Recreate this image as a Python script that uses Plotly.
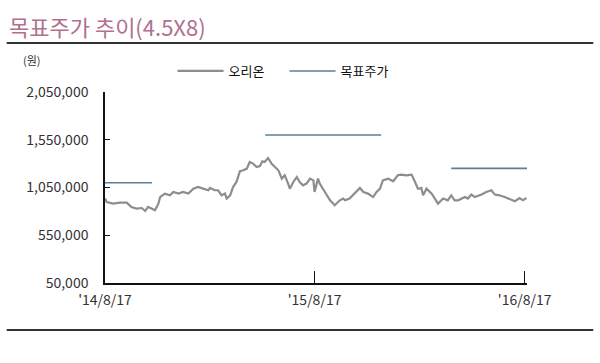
import pandas as pd
import plotly.graph_objects as go

# ---- data ----
start_date = "2014-08-17"
day_offsets = [0, 3, 14, 26, 38, 46, 55, 64, 70, 75, 81, 87, 93, 96, 104, 113, 119, 128, 136, 145,
               154, 162, 171, 180, 183, 191, 197, 203, 209, 212, 218, 223, 229, 235, 241, 247, 252,
               258, 264, 270, 274, 278, 284, 290, 296, 302, 308, 313, 319, 322, 328, 334, 339, 345,
               351, 357, 363, 365, 371, 374, 383, 392, 400, 409, 415, 418, 426, 435, 444, 450, 458,
               467, 473, 479, 484, 493, 502, 510, 516, 525, 534, 540, 545, 548, 551, 554, 560, 569,
               574, 580, 589, 597, 603, 609, 615, 621, 627, 632, 638, 644, 650, 656, 664, 673, 679,
               687, 696, 705, 714, 722, 728, 734]
orion_price = [934000, 898000, 881000, 892000, 892000, 846000, 829000, 835000, 804000, 846000,
               829000, 811000, 881000, 950000, 986000, 968000, 1003000, 986000, 1003000, 986000,
               1038000, 1055000, 1038000, 1021000, 1045000, 1021000, 1021000, 968000, 986000, 934000,
               968000, 1055000, 1108000, 1220000, 1230000, 1248000, 1317000, 1300000, 1265000,
               1275000, 1324000, 1317000, 1359000, 1300000, 1265000, 1230000, 1143000, 1178000,
               1091000, 1038000, 1108000, 1160000, 1108000, 1073000, 1091000, 1143000, 1125000,
               1003000, 1143000, 1091000, 1003000, 916000, 864000, 916000, 934000, 916000, 934000,
               986000, 1045000, 1003000, 986000, 950000, 1003000, 1038000, 1125000, 1143000, 1115000,
               1178000, 1185000, 1178000, 1185000, 1108000, 1038000, 1038000, 1045000, 968000,
               1038000, 986000, 934000, 881000, 934000, 916000, 968000, 916000, 916000, 934000,
               950000, 934000, 976000, 950000, 961000, 976000, 1003000, 1021000, 976000, 968000,
               950000, 926000, 906000, 940000, 916000, 940000, 916000, 892000, 898000, 898000]
target_start = ["2014-08-17", "2015-05-23", "2016-04-11"]
target_end = ["2014-11-07", "2015-12-11", "2016-08-21"]
target_price = [1100000, 1600000, 1250000]
y_ticks = [50000, 550000, 1050000, 1550000, 2050000]
x_tick_dates = ["2014-08-17", "2015-08-17", "2016-08-17"]
x_tick_labels = ["'14/8/17", "'15/8/17", "'16/8/17"]

dates = pd.Timestamp(start_date) + pd.to_timedelta(day_offsets, unit="D")

tx, ty = [], []
for s, e, v in zip(target_start, target_end, target_price):
    tx += [s, e, None]
    ty += [v, v, None]

FONT = "Noto Sans CJK KR"

fig = go.Figure()
fig.add_trace(go.Scatter(x=dates, y=orion_price, mode="lines", name="오리온",
                         line=dict(color="#8d8d8d", width=2.2)))
fig.add_trace(go.Scatter(x=tx, y=ty, mode="lines", name="목표주가",
                         line=dict(color="#5b7f99", width=1.6)))

fig.update_layout(
    width=600, height=363,
    margin=dict(l=105, r=73, t=92, b=80),
    plot_bgcolor="white", paper_bgcolor="white",
    font=dict(family=FONT, size=14, color="#333333"),
    showlegend=True,
    legend=dict(orientation="h", x=0.16, y=1.11, xanchor="left", yanchor="middle",
                font=dict(size=13, color="#111111"), bgcolor="rgba(0,0,0,0)",
                entrywidth=51, itemwidth=46),
    xaxis=dict(type="date", range=["2014-08-17", "2016-08-21"],
               tickvals=x_tick_dates, ticktext=x_tick_labels,
               showgrid=False, zeroline=False, showline=True, linecolor="#111111", linewidth=1.5,
               ticks="inside", ticklen=12, tickwidth=1, tickcolor="#111111",
               tickfont=dict(size=14, color="#333333"), ticklabelstandoff=3),
    yaxis=dict(range=[50000, 2050000], tickvals=y_ticks, tickformat=",d",
               showgrid=False, zeroline=False, showline=True, linecolor="#111111", linewidth=1.5,
               ticks="inside", ticklen=5, tickwidth=1, tickcolor="#111111",
               tickfont=dict(size=14, color="#333333"), ticklabelstandoff=12),
)

fig.add_annotation(text="목표주가 추이(4.5X8)", xref="paper", yref="paper",
                   x=-0.233, y=1.3455, xanchor="left", yanchor="middle", showarrow=False,
                   font=dict(family=FONT, size=22, color="#b0708e"))
fig.add_annotation(text="(원)", xref="paper", yref="paper",
                   x=-0.2, y=1.168, xanchor="left", yanchor="middle", showarrow=False,
                   font=dict(family=FONT, size=11, color="#333333"))

fig.add_shape(type="line", xref="paper", yref="paper", x0=-0.233, x1=1.157, y0=1.257, y1=1.257,
              line=dict(color="#333333", width=2))
fig.add_shape(type="line", xref="paper", yref="paper", x0=-0.233, x1=1.157, y0=-0.246, y1=-0.246,
              line=dict(color="#333333", width=2))

fig.write_html("out.html")
